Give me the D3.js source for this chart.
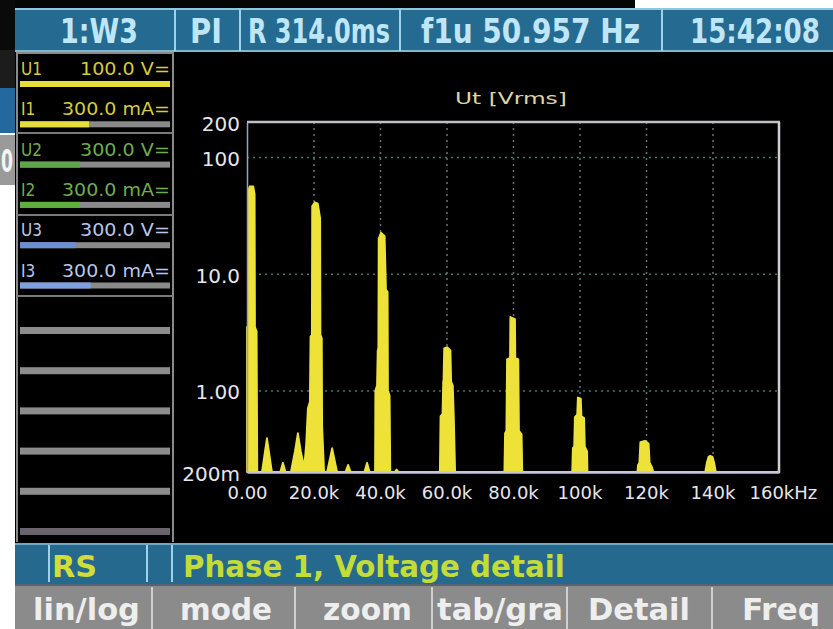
<!DOCTYPE html>
<html><head><meta charset="utf-8">
<script src="https://cdn.jsdelivr.net/npm/d3@7"></script>
<style>
html,body{margin:0;padding:0;background:#fff;}
svg{display:block;}
text{font-family:"DejaVu Sans","Liberation Sans",sans-serif;}
.cond{font-family:"DejaVu Sans Condensed","DejaVu Sans",sans-serif;font-stretch:condensed;}
</style></head><body>
<svg id="c" width="833" height="629"></svg>
<script>
// ---------- data ----------
const freqKHz = [
  0.0,0.0,0.3,0.3,0.8,1.9,2.3,2.4,2.9,3.1,
  4.5,5.4,6.0,6.6,7.5,
  10.0,10.8,11.6,
  13.2,14.4,15.3,16.2,17.2,
  17.8,18.3,18.9,19.1,19.5,19.6,20.4,21.3,22.0,22.1,22.5,22.6,23.2,
  24.1,25.6,27.1,
  29.6,30.4,31.2,
  35.3,36.1,36.9,
  38.5,38.6,39.1,39.3,39.5,39.6,40.3,41.4,41.8,42.3,42.4,42.9,43.1,
  44.4,45.0,45.6,
  58.0,58.2,58.8,59.0,59.1,59.3,60.2,61.2,61.4,61.9,62.2,62.6,
  77.4,77.6,78.0,78.2,79.1,79.2,80.6,80.7,81.6,81.8,82.6,82.8,
  97.8,98.0,98.4,98.6,99.3,99.5,100.4,100.6,101.4,101.6,102.3,102.4,
  117.4,117.6,118.0,118.3,119.7,120.8,121.1,121.8,122.2,
  137.8,138.3,138.8,139.3,140.0,140.5,141.0,
  160.0
];
const voltsRms = [
  0.2,3.5,3.5,50,56,56,48,3.5,3.2,0.2,
  0.2,0.3,0.39,0.3,0.2,
  0.2,0.24,0.2,
  0.2,0.3,0.43,0.3,0.22,
  0.35,0.7,0.8,2.9,3.0,38,41,40,30,3.0,2.8,0.5,0.2,
  0.2,0.32,0.2,
  0.2,0.23,0.2,
  0.2,0.24,0.2,
  0.2,1.0,1.1,2.2,2.3,20,22.5,21,7.3,7.0,1.0,0.9,0.2,
  0.2,0.21,0.2,
  0.2,0.6,0.63,1.2,1.22,2.3,2.35,2.2,1.2,1.1,0.6,0.2,
  0.2,0.43,0.45,1.85,1.9,4.26,4.1,1.9,1.85,0.45,0.42,0.2,
  0.2,0.32,0.33,0.59,0.62,0.87,0.85,0.6,0.58,0.33,0.3,0.2,
  0.2,0.23,0.24,0.36,0.37,0.35,0.24,0.22,0.2,
  0.2,0.24,0.27,0.275,0.27,0.24,0.2,
  0.2
];
const yTickValues = [200,100,10,1,0.2];
const yTickLabels = ["200","100","10.0","1.00","200m"];
const yGridValues = [100,10,1];
const xTickValues = [0,20,40,60,80,100,120,140,160];
const xTickLabels = ["0.00","20.0k","40.0k","60.0k","80.0k","100k","120k","140k","160kHz"];
const chartTitle = "Ut [Vrms]";
const headerFields = ["1:W3","PI","R 314.0ms","f1u 50.957 Hz","15:42:08"];
const channelNames = ["U1","I1","U2","I2","U3","I3"];
const channelRanges = ["100.0 V=","300.0 mA=","300.0 V=","300.0 mA=","300.0 V=","300.0 mA="];
const channelLevels = [1.0,0.46,0.4,0.4,0.37,0.47];
const statusMode = "RS";
const statusText = "Phase 1, Voltage detail";
const softKeys = ["lin/log","mode","zoom","tab/gra","Detail","Freq"];

// ---------- helpers ----------
// place text so that it starts at x0 and spans exactly width w (horizontal scaling only)
function fitText(parent, str, x0, yb, w, attrs){
  const t = parent.append("text").text(str);
  Object.entries(attrs).forEach(([k,v])=>t.attr(k,v));
  const len = t.node().getComputedTextLength();
  t.attr("transform",`translate(${x0},${yb}) scale(${w/len},1)`);
  return t;
}

// ---------- drawing ----------
const svg = d3.select("#c");

// surroundings (other windows / photo edges)
svg.append("rect").attr("x",0).attr("y",0).attr("width",635).attr("height",8).attr("fill","#050505");
svg.append("rect").attr("x",0).attr("y",0).attr("width",15).attr("height",88).attr("fill","#0a0a0a");
svg.append("rect").attr("x",0).attr("y",50).attr("width",15).attr("height",38).attr("fill","#1c1c1c");
svg.append("rect").attr("x",0).attr("y",88).attr("width",15).attr("height",45).attr("fill","#2468a0");
svg.append("rect").attr("x",0).attr("y",135).attr("width",15).attr("height",50).attr("fill","#9a9a9a");
fitText(svg,"0",1,172,12,{"font-size":32,"font-weight":"bold","fill":"#f4f4f4"});

// main screen background
svg.append("rect").attr("x",15).attr("y",8).attr("width",818).attr("height",621).attr("fill","#000");

// header bar
const hdr = svg.append("g");
hdr.append("rect").attr("x",15).attr("y",8).attr("width",818).attr("height",44).attr("fill","#256a90");
hdr.append("line").attr("x1",15).attr("x2",833).attr("y1",9).attr("y2",9).attr("stroke","#8cc6e0").attr("stroke-width",2);
hdr.append("line").attr("x1",15).attr("x2",833).attr("y1",51).attr("y2",51).attr("stroke","#7fb6d0").attr("stroke-width",2);
[175,240,400,662].forEach(x=>hdr.append("line").attr("x1",x).attr("x2",x).attr("y1",9).attr("y2",51).attr("stroke","#9fd2ea").attr("stroke-width",2));
const hdrPos = [[60,78],[190,32],[248,142],[421,219],[690,130]];
headerFields.forEach((t,i)=>{
  fitText(hdr,t,hdrPos[i][0],43,hdrPos[i][1],{"class":"cond","font-size":33,"font-weight":"bold","fill":"#bfe6f6"});
});

// left channel panel
const lp = svg.append("g");
lp.append("rect").attr("x",16).attr("y",52).attr("width",158).attr("height",490).attr("fill","#000");
lp.append("line").attr("x1",17).attr("x2",17).attr("y1",52).attr("y2",542).attr("stroke","#8a8a8a").attr("stroke-width",2);
lp.append("line").attr("x1",173).attr("x2",173).attr("y1",52).attr("y2",542).attr("stroke","#8a8a8a").attr("stroke-width",2);
lp.append("line").attr("x1",17).attr("x2",173).attr("y1",53).attr("y2",53).attr("stroke","#8a8a8a").attr("stroke-width",2);
const chText = ["#d6cc3c","#d6cc3c","#6fae4c","#6fae4c","#b8c8ea","#b8c8ea"];
const chBar = ["#e6dc3a","#e6dc3a","#5ea648","#5cb040","#6a8fd6","#7fa0e0"];
channelNames.forEach((n,i)=>{
  const yb = 75 + 40.3*i;
  lp.append("text").attr("class","cond").attr("x",21).attr("y",yb).attr("font-size",17).attr("fill",chText[i]).text(n);
  const isA = channelRanges[i].indexOf("mA")>=0;
  const w = isA?108:90;
  fitText(lp,channelRanges[i],170-w,yb,w,{"class":"cond","font-size":17,"fill":chText[i]});
  const by = 81 + 40.3*i;
  lp.append("rect").attr("x",20).attr("y",by).attr("width",150).attr("height",6).attr("fill","#8a8a8a");
  lp.append("rect").attr("x",20).attr("y",by).attr("width",150*channelLevels[i]).attr("height",6).attr("fill",chBar[i]);
});
[133,215,296].forEach(y=>lp.append("line").attr("x1",17).attr("x2",173).attr("y1",y).attr("y2",y).attr("stroke","#7a7a7a").attr("stroke-width",2));
for(let k=0;k<6;k++){
  lp.append("rect").attr("x",20).attr("y",327+40.2*k).attr("width",150).attr("height",7).attr("fill",k===5?"#6a6470":"#8c8c8c");
}

// chart
const x = d3.scaleLinear().domain([0,160]).range([247,779]);
const y = d3.scaleLog().domain([0.2,200]).range([472,122]);
const ch = svg.append("g");

fitText(ch,chartTitle,455,104,112,{"font-size":15,"fill":"#ddd5a6"});

// grid
const gy = ch.append("g").attr("transform","translate(247,0)")
  .call(d3.axisLeft(y).tickValues(yGridValues).tickSize(-532).tickFormat(""));
gy.select(".domain").remove();
gy.selectAll("line").attr("stroke","#3f7a6a").attr("stroke-width",1.5).attr("stroke-dasharray","2,4");
const gx = ch.append("g").attr("transform","translate(0,472)")
  .call(d3.axisBottom(x).tickValues(xTickValues.slice(1,-1)).tickSize(-350).tickFormat(""));
gx.select(".domain").remove();
gx.selectAll("line").attr("stroke","#667474").attr("stroke-width",1.5).attr("stroke-dasharray","2,4");

// spectrum
const pts = freqKHz.map((f,i)=>[f,voltsRms[i]]);
const area = d3.area().x(d=>x(d[0])).y0(y(0.2)).y1(d=>y(d[1]));
ch.append("path").datum(pts).attr("d",area).attr("fill","#eee238").attr("stroke","#ece23c").attr("stroke-width",1.8).attr("stroke-linejoin","round");

// frame
ch.append("line").attr("x1",247).attr("x2",780).attr("y1",122).attr("y2",122).attr("stroke","#bfbfc4").attr("stroke-width",2.5);
ch.append("line").attr("x1",779).attr("x2",779).attr("y1",122).attr("y2",473).attr("stroke","#cfcfd4").attr("stroke-width",2.5);

// axes
const ay = ch.append("g").attr("transform","translate(247,0)")
  .call(d3.axisLeft(y).tickValues(yTickValues).tickFormat((d,i)=>yTickLabels[i]).tickSize(0).tickPadding(7));
ay.select(".domain").attr("stroke","#9aa2c4").attr("stroke-width",1.5);
ay.selectAll("text").attr("font-size",20).attr("fill","#e6e6ee").attr("font-family","DejaVu Sans Condensed, DejaVu Sans, sans-serif").attr("dy","0.42em");

const ax = ch.append("g").attr("transform","translate(0,472)")
  .call(d3.axisBottom(x).tickValues(xTickValues).tickFormat((d,i)=>xTickLabels[i]).tickSize(0).tickPadding(14));
ax.select(".domain").attr("stroke","#c6c4dc").attr("stroke-width",2.5);
ax.selectAll("text").attr("font-size",18).attr("fill","#e6e6ee").attr("font-family","DejaVu Sans Condensed, DejaVu Sans, sans-serif");
ax.selectAll(".tick").filter((d,i)=>i===xTickValues.length-1).select("text").attr("text-anchor","start").attr("x",-30);

// status bar
const sb = svg.append("g");
sb.append("rect").attr("x",15).attr("y",543).attr("width",818).attr("height",41).attr("fill","#26698e");
sb.append("line").attr("x1",15).attr("x2",833).attr("y1",544).attr("y2",544).attr("stroke","#6fa9c6").attr("stroke-width",2);
[49,147,172].forEach(xx=>sb.append("line").attr("x1",xx).attr("x2",xx).attr("y1",545).attr("y2",582).attr("stroke","#9fd2ea").attr("stroke-width",2));
fitText(sb,statusMode,52,577,45,{"class":"cond","font-size":30,"font-weight":"bold","fill":"#d4dc3a"});
fitText(sb,statusText,183,577,382,{"class":"cond","font-size":30,"font-weight":"bold","fill":"#c4dc36"});

// soft keys
const sk = svg.append("g");
sk.append("rect").attr("x",15).attr("y",585).attr("width",818).attr("height",44).attr("fill","#8b8b8b");
sk.append("line").attr("x1",15).attr("x2",833).attr("y1",585).attr("y2",585).attr("stroke","#5a6470").attr("stroke-width",2);
[152,295,432,567,712].forEach(xx=>sk.append("line").attr("x1",xx).attr("x2",xx).attr("y1",587).attr("y2",629).attr("stroke","#d0d0d0").attr("stroke-width",2));
const skPos = [[33,107],[180,92],[323,89],[437,126],[588,102],[742,78]];
softKeys.forEach((t,i)=>{
  fitText(sk,t,skPos[i][0],620,skPos[i][1],{"class":"cond","font-size":31,"font-weight":"bold","fill":"#eeeeee"});
});
</script>
</body></html>
